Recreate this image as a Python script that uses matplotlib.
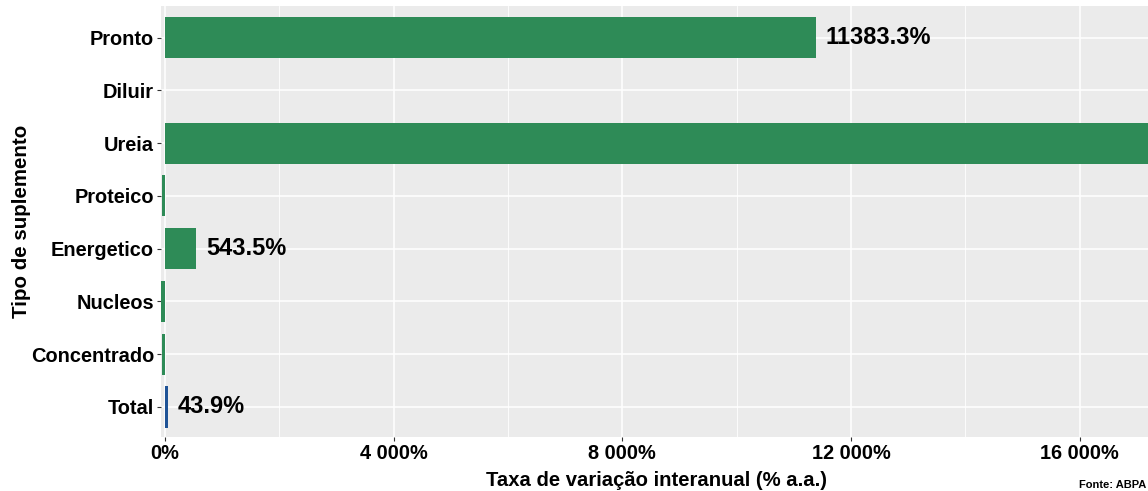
import numpy as np
import matplotlib
matplotlib.use("Agg")
import matplotlib.pyplot as plt
from matplotlib.ticker import MultipleLocator, FuncFormatter

matplotlib.rcParams["font.family"] = ["Liberation Sans", "DejaVu Sans"]
matplotlib.rcParams["font.weight"] = "bold"

# data (bottom to top)
categories = ["Total", "Concentrado", "Nucleos", "Energetico",
              "Proteico", "Ureia", "Diluir", "Pronto"]
values = [43.9, -45.0, -70.0, 543.5, -50.0, 25000.0, 0.0, 11383.3]
show_label = [True, False, False, True, False, False, False, True]
bar_colors = ["#1f5396"] + ["#2e8b57"] * 7

X_MIN, X_MAX = -70, 17250

fig = plt.figure(figsize=(11.48, 4.91), dpi=100)
ax = fig.add_axes([161 / 1148, 54 / 491, (1151 - 161) / 1148, (437 - 6) / 491])
ax.set_facecolor("#ebebeb")

y = np.arange(len(categories))
ax.barh(y, values, height=0.78, color=bar_colors, zorder=3)

for yi, v, s in zip(y, values, show_label):
    if s:
        ax.annotate(f"{v:.1f}%", xy=(v, yi), xytext=(7, 0),
                    textcoords="offset points", va="center", ha="left",
                    fontsize=17, fontweight="bold", color="black", zorder=4)

ax.set_xlim(X_MIN, X_MAX)
ax.set_ylim(-0.57, 7.6)
ax.set_yticks(y)
ax.set_yticklabels(categories)

ax.xaxis.set_major_locator(MultipleLocator(4000))
ax.xaxis.set_minor_locator(MultipleLocator(2000))
ax.xaxis.set_major_formatter(
    FuncFormatter(lambda v, p: f"{int(v):,}%".replace(",", " ")))

ax.grid(which="major", color="white", linewidth=1.1, zorder=0)
ax.grid(which="minor", axis="x", color="white", linewidth=0.6, zorder=0)
ax.set_axisbelow(True)

for sp in ax.spines.values():
    sp.set_visible(False)

ax.tick_params(axis="both", which="major", labelsize=14.4, color="#333333",
               length=3, width=0.8, pad=2)
ax.tick_params(axis="x", which="minor", length=0)
for lab in ax.get_xticklabels() + ax.get_yticklabels():
    lab.set_fontweight("bold")

ax.set_xlabel("Taxa de variação interanual (% a.a.)", fontsize=14.6,
              fontweight="bold", labelpad=6)
ax.set_ylabel("Tipo de suplemento", fontsize=14.8, fontweight="bold",
              labelpad=0)

# source note, bottom right
fig.text(1146 / 1148, 1 / 491, "Fonte: ABPA", fontsize=8,
         fontweight="bold", ha="right", va="bottom")

fig.savefig("out.png", dpi=100)
